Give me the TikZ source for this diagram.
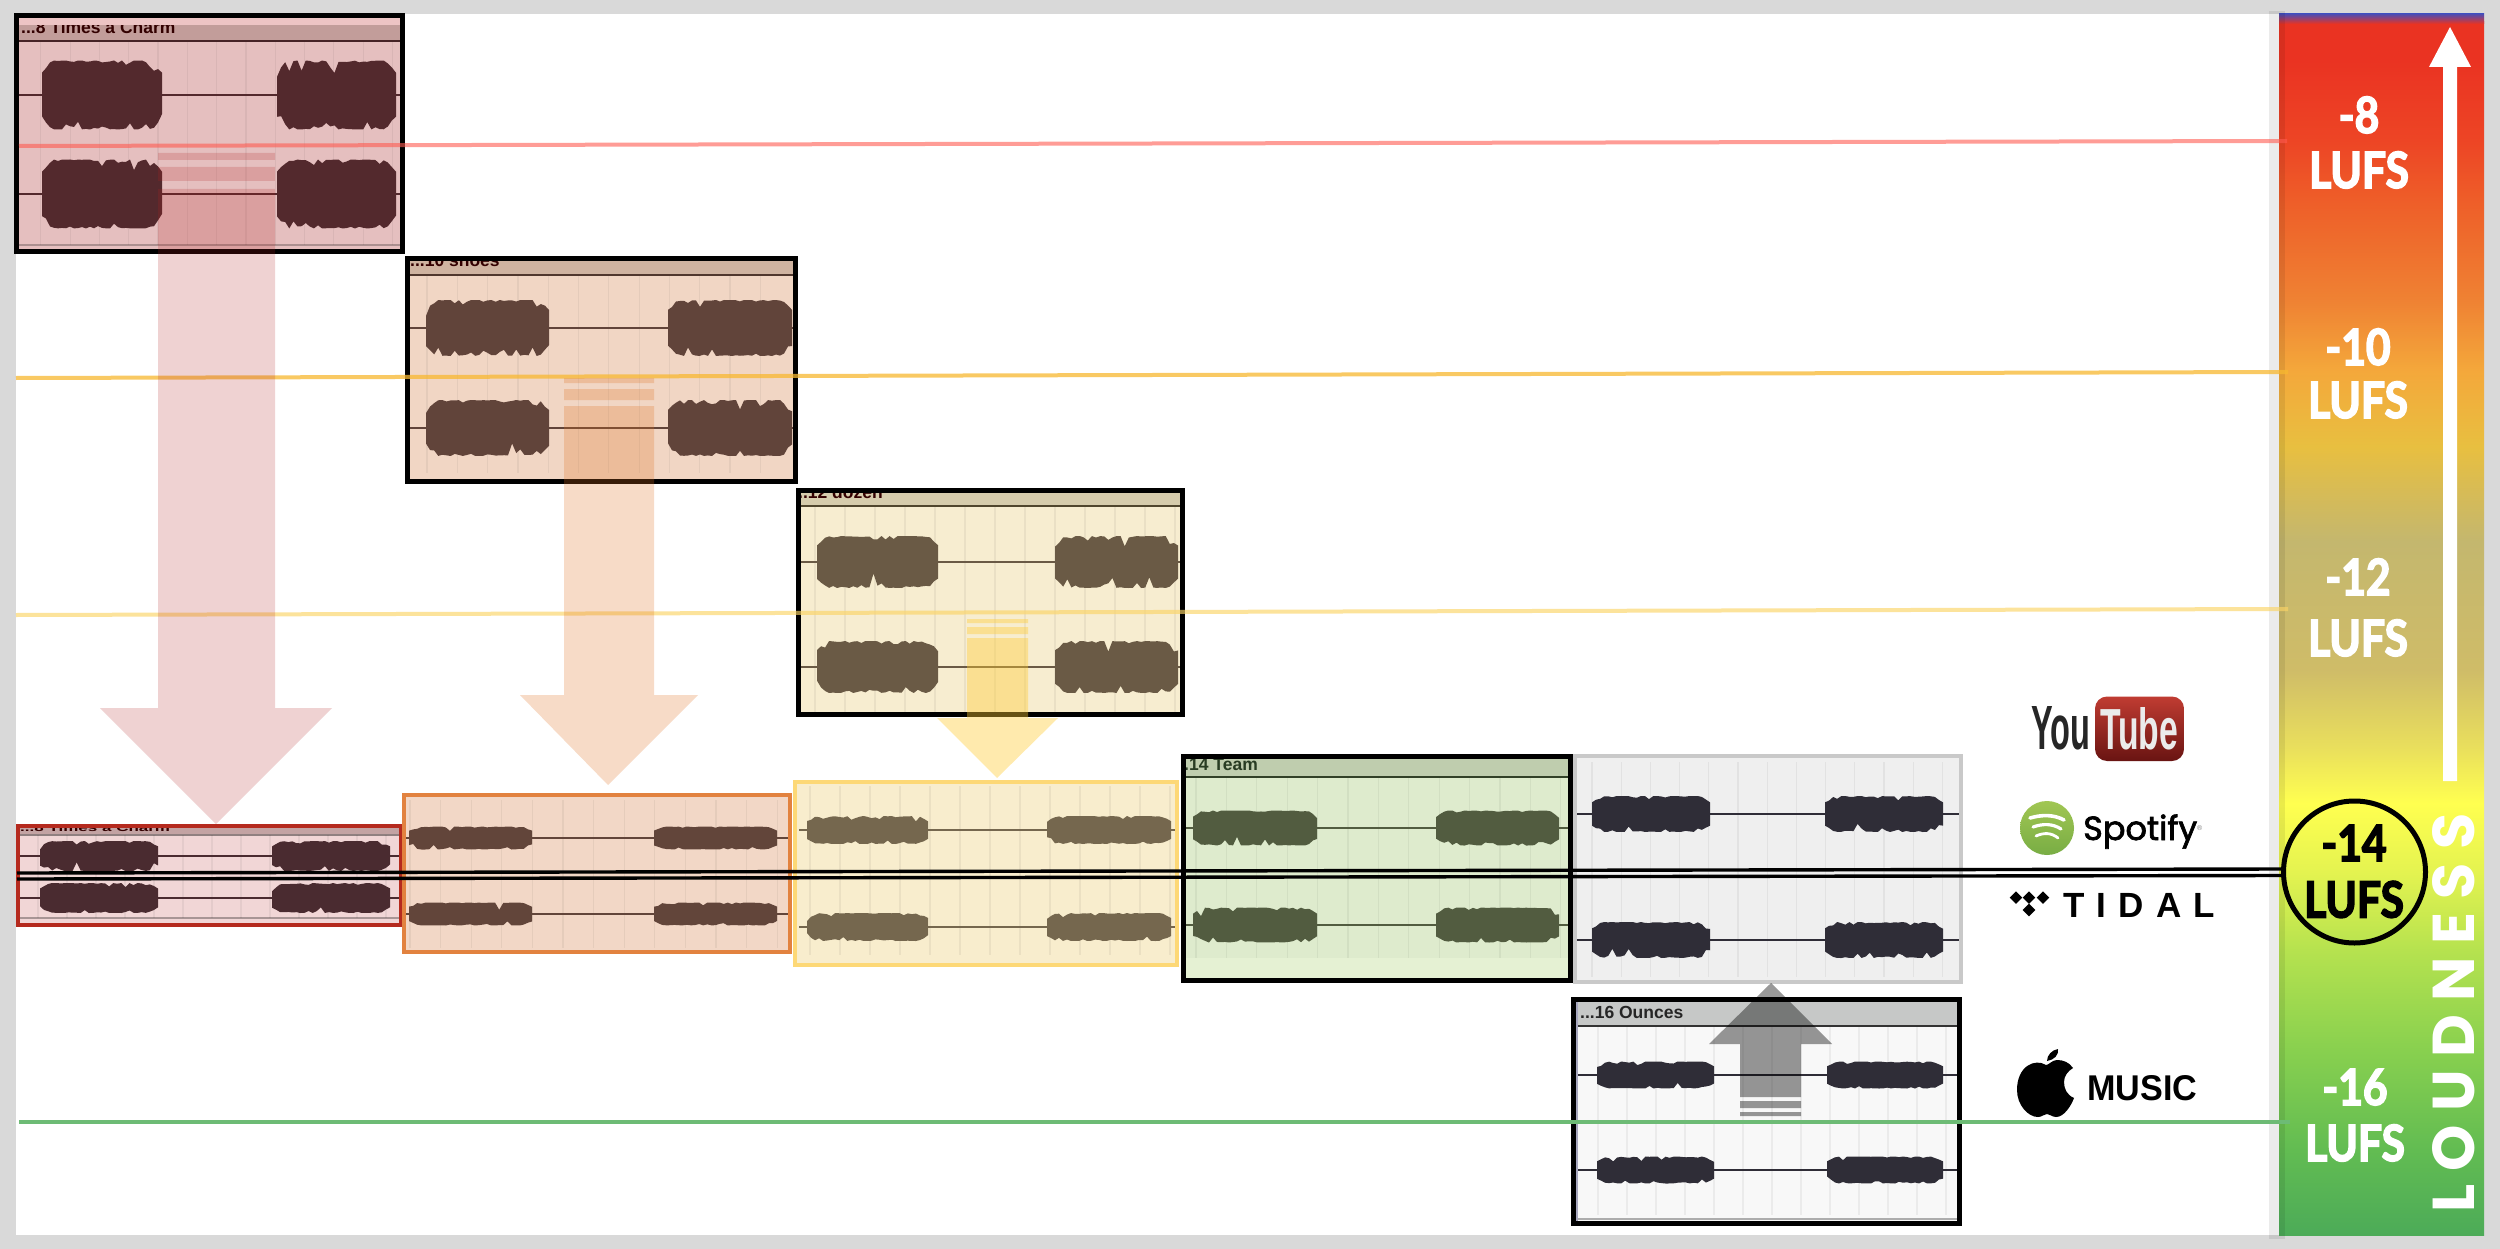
\documentclass[tikz,border=0pt]{standalone}
\usepackage{fontspec}
\setmainfont{Liberation Sans}
\newfontfamily\lufsfont[FakeStretch=0.85,BoldFeatures={FakeBold=3}]{Lato}
\newfontfamily\loudfont[LetterSpace=22]{Poppins}
\newfontfamily\spotfont[FakeBold=2]{Poppins}
\newfontfamily\tidalfont[LetterSpace=35]{Liberation Sans}
\definecolor{frame}{HTML}{D9D9D9}
\definecolor{mA}{HTML}{4CAB58}\definecolor{mB}{HTML}{62BC52}\definecolor{mC}{HTML}{88D04F}
\definecolor{mD}{HTML}{B5E24F}\definecolor{mE}{HTML}{E4F350}\definecolor{mF}{HTML}{FFFF50}
\definecolor{mG}{HTML}{EAE05C}\definecolor{mH}{HTML}{CFBC68}\definecolor{mI}{HTML}{C4B76E}
\definecolor{mJ}{HTML}{E8BF40}\definecolor{mK}{HTML}{F4A83B}\definecolor{mL}{HTML}{EF8233}
\definecolor{mM}{HTML}{EE5F29}\definecolor{mN}{HTML}{ED4525}\definecolor{mO}{HTML}{EA3322}
\pgfdeclareverticalshading{meter}{100bp}{
 color(0bp)=(mA);color(25bp)=(mA);color(28.5bp)=(mB);color(32.6bp)=(mC);color(36.7bp)=(mD);color(39.96bp)=(mE);
 color(42.8bp)=(mF);color(45bp)=(mG);color(48.3bp)=(mH);color(53.6bp)=(mI);color(57.5bp)=(mJ);color(60.6bp)=(mK);
 color(63.5bp)=(mL);color(67.5bp)=(mM);color(70.1bp)=(mN);color(73.4bp)=(mO);color(75bp)=(mO);color(100bp)=(mO)}
\newcommand\wv[4]{%
 \pgfmathtruncatemacro\nn{(#2-#1)/4}%
 \fill (#1,#3) foreach \i [evaluate=\i as \xx using {#1+(#2-#1)*\i/\nn},
   evaluate=\i as \yy using {#3-#4*min(1,.65+.15*min(\i,\nn-\i))*(1-.75*rnd*rnd*rnd*rnd)}] in {0,...,\nn} { -- (\xx,\yy) }
  foreach \i [evaluate=\i as \xx using {#2-(#2-#1)*\i/\nn},
   evaluate=\i as \yy using {#3+#4*min(1,.65+.15*min(\i,\nn-\i))*(1-.85*rnd*rnd*rnd*rnd)}] in {0,...,\nn} { -- (\xx,\yy) } -- cycle;}
% line x0, x1, yc, h, a0, a1, b0, b1
\newcommand\trk[8]{\draw[line width=1.6pt] (#1,#3) -- (#2,#3);\wv{#5}{#6}{#3}{#4}\wv{#7}{#8}{#3}{#4}}
% x0 step n y0 y1
\newcommand\grd[5]{\foreach \k in {0,...,#3} \draw[black,opacity=.05,line width=1.2pt] ({#1+\k*#2},#4) -- ({#1+\k*#2},#5);}
\tikzset{hdr/.style={font=\bfseries\fontsize{#1}{#1}\selectfont,anchor=base west,inner sep=0},
 lab/.style={font=\lufsfont\bfseries\fontsize{50}{50}\selectfont,text=white,anchor=base,inner sep=0},
 guide/.style={line width=4pt},
 blackbox/.style={black,line width=5pt}}
\begin{document}
\begin{tikzpicture}[x=1pt,y=-1pt]
\pgfmathsetseed{4242}
\useasboundingbox (0,0) rectangle (2500,1249);
\fill[frame] (0,0) rectangle (2500,1249);
\fill[white] (16,14) rectangle (2484,1235);
% ---------- meter
\shade[shading=meter] (2279,22) rectangle (2484,1235);
\fill[top color=blue!40!gray,bottom color=mO] (2279,14) rectangle (2484,24);
\fill[black,opacity=.08] (2269,11) rectangle (2285,1239);
% ---------- box 1
\fill[fill={rgb,255:red,229;green,191;blue,191}] (14,14) rectangle (404,254);
\fill[fill={rgb,255:red,194;green,157;blue,154}] (17,25) rectangle (402,41);
\node[hdr=17.5,text=black!80!red] (t8) at (21,33.5) {...8 Times a Charm};
\fill[fill={rgb,255:red,237;green,196;blue,196}] (17,16) rectangle (402,25);
\draw[line width=2pt,color={rgb,255:red,70;green,35;blue,38}] (18,41) -- (402,41);
\draw[black,opacity=.25,line width=1.5pt] (18,245) -- (402,245);
\grd{40.8}{29.3}{12}{42}{245}
\begin{scope}[color={rgb,255:red,83;green,41;blue,45},fill={rgb,255:red,83;green,41;blue,45}]
\trk{19}{402}{95}{34.5}{42}{162}{277}{396}\trk{19}{402}{194}{34.5}{42}{162}{277}{396}
\end{scope}
\draw[blackbox] (16,16) rectangle (402,252);
% ---------- box 2
\fill[fill={rgb,255:red,241;green,214;blue,196}] (405,257) rectangle (796,483);
\fill[fill={rgb,255:red,207;green,179;blue,160}] (407,260) rectangle (794,275);
\begin{scope}
\clip (407,260) rectangle (794,275);
\node[hdr=17.5,text=black!80!red] (t10) at (410,267) {...10 shoes};
\end{scope}
\draw[line width=2pt,color={rgb,255:red,80;green,55;blue,45}] (408,275) -- (794,275);
\grd{427}{30.3}{11}{276}{473}
\begin{scope}[color={rgb,255:red,97;green,68;blue,58},fill={rgb,255:red,97;green,68;blue,58}]
\trk{408}{794}{328}{28}{426}{549}{668}{792}\trk{408}{794}{428}{28}{426}{549}{668}{792}
\end{scope}
\draw[blackbox] (407,259) rectangle (795,481);
% ---------- box 3
\fill[fill={rgb,255:red,247;green,237;blue,208}] (796,488) rectangle (1184,716);
\fill[fill={rgb,255:red,214;green,204;blue,172}] (799,492) rectangle (1181,506);
\begin{scope}
\clip (799,492) rectangle (1181,506);
\node[hdr=17.5,text=black!80!red] (t12) at (798,498) {..12 dozen};
\end{scope}
\draw[line width=2pt,color={rgb,255:red,80;green,70;blue,45}] (800,506) -- (1181,506);
\grd{815}{30}{12}{507}{712}
\begin{scope}[color={rgb,255:red,106;green,90;blue,69},fill={rgb,255:red,106;green,90;blue,69}]
\trk{800}{1181}{562}{26}{817}{938}{1055}{1178}\trk{800}{1181}{667}{26}{817}{938}{1055}{1178}
\end{scope}
\draw[blackbox] (798,490) rectangle (1182,714);
% ---------- guide lines
\coordinate (rL) at (19,146);\coordinate (rR) at (2287,141);
\coordinate (oL) at (16,378);\coordinate (oR) at (2288,372);
\coordinate (yL) at (16,615);\coordinate (yR) at (2288,609);
\coordinate (gL) at (19,1122);\coordinate (gR) at (2290,1122);
\draw[guide,color={rgb,255:red,255;green,90;blue,80},opacity=.6] (rL) -- (rR);
\draw[guide,color={rgb,255:red,248;green,184;blue,48},opacity=.75] (oL) -- (oR);
\draw[guide,color={rgb,255:red,251;green,212;blue,102},opacity=.65] (yL) -- (yR);
% ---------- down arrows
\fill[color={rgb,255:red,178;green,34;blue,34},opacity=.2]
 (158,153) rectangle (275,160) (158,167) rectangle (275,181)
 (158,189) -- (275,189) -- (275,708) -- (332,708) -- (216,824) -- (100,708) -- (158,708) -- cycle;
\fill[color={rgb,255:red,224;green,112;blue,32},opacity=.25]
 (564,378) rectangle (654,383) (564,389) rectangle (654,400)
 (564,406) -- (654,406) -- (654,695) -- (698,695) -- (608,785) -- (520,695) -- (564,695) -- cycle;
\fill[color={rgb,255:red,255;green,204;blue,51},opacity=.4]
 (967,619) rectangle (1028,623) (967,627) rectangle (1028,634)
 (967,638) -- (1028,638) -- (1028,718) -- (1058,718) -- (997,778) -- (937,718) -- (967,718) -- cycle;
% ---------- lower row
% L5 grey
\fill[fill={rgb,255:red,239;green,239;blue,239}] (1573,754) rectangle (1963,984);
\grd{1592}{29.2}{12}{762}{977}
\begin{scope}[color={rgb,255:red,47;green,45;blue,55},fill={rgb,255:red,47;green,45;blue,55}]
\trk{1575}{1961}{814}{18}{1592}{1710}{1825}{1943}\trk{1575}{1961}{940}{18}{1592}{1710}{1825}{1943}
\end{scope}
\draw[color={rgb,255:red,201;green,201;blue,201},line width=4pt] (1575,756) rectangle (1961,982);
% L1 red
\fill[fill={rgb,255:red,241;green,214;blue,214}] (17,824) rectangle (402,926);
\fill[fill={rgb,255:red,195;green,163;blue,163}] (19,826) rectangle (400,834);
\begin{scope}
\clip (19,826) rectangle (400,834);
\node[hdr=17,text=black!80!red] (tl8) at (20,831) {\scalebox{1}[.6]{...8 Times a Charm}};
\end{scope}
\grd{38}{29}{12}{835}{918}
\draw[black,opacity=.4,line width=1.5pt] (19,835) -- (400,835);
\draw[black,opacity=.3,line width=1.5pt] (19,918) -- (400,918);
\begin{scope}[color={rgb,255:red,74;green,43;blue,48},fill={rgb,255:red,74;green,43;blue,48}]
\trk{19}{400}{856}{15}{40}{158}{272}{390}\trk{19}{400}{898}{15}{40}{158}{272}{390}
\end{scope}
\draw[color={rgb,255:red,181;green,42;blue,30},line width=4pt] (18,826) rectangle (401,925);
% L2 orange
\fill[fill={rgb,255:red,242;green,215;blue,198}] (402,793) rectangle (792,954);
\grd{410}{30.6}{12}{800}{948}
\begin{scope}[color={rgb,255:red,98;green,69;blue,58},fill={rgb,255:red,98;green,69;blue,58}]
\trk{405}{790}{838}{11.5}{409}{532}{654}{777}\trk{405}{790}{914}{11.5}{409}{532}{654}{777}
\end{scope}
\draw[color={rgb,255:red,226;green,130;blue,63},line width=4pt] (404,795) rectangle (790,952);
% L3 yellow
\fill[fill={rgb,255:red,248;green,237;blue,205}] (793,780) rectangle (1179,967);
\grd{810}{30}{12}{786}{955}
\begin{scope}[color={rgb,255:red,117;green,103;blue,78},fill={rgb,255:red,117;green,103;blue,78}]
\trk{799}{1176}{830}{14}{807}{928}{1047}{1171}\trk{799}{1176}{927}{14}{807}{928}{1047}{1171}
\end{scope}
\draw[color={rgb,255:red,253;green,216;blue,118},line width=4pt] (795,782) rectangle (1177,965);
% L4 green
\fill[fill={rgb,255:red,222;green,235;blue,205}] (1181,754) rectangle (1572,982);
\fill[fill={rgb,255:red,229;green,241;blue,211}] (1183,958) rectangle (1570,980);
\fill[fill={rgb,255:red,191;green,205;blue,174}] (1183,758) rectangle (1570,777);
\begin{scope}
\clip (1183,758) rectangle (1570,777);
\node[hdr=17.5,text={rgb,255:red,40;green,60;blue,35}] (t14) at (1184,770) {.14 Team};
\end{scope}
\draw[line width=2pt,color={rgb,255:red,50;green,65;blue,40}] (1184,777) -- (1570,777);
\grd{1196}{30.4}{12}{778}{958}
\begin{scope}[color={rgb,255:red,82;green,92;blue,64},fill={rgb,255:red,82;green,92;blue,64}]
\trk{1184}{1570}{828}{17.5}{1193}{1317}{1436}{1559}\trk{1184}{1570}{925}{17.5}{1193}{1317}{1436}{1559}
\end{scope}
\draw[blackbox] (1183,756) rectangle (1570,980);
% box 16
\fill[fill={rgb,255:red,248;green,248;blue,248}] (1571,997) rectangle (1961,1225);
\fill[fill={rgb,255:red,198;green,200;blue,199}] (1577,1001) rectangle (1959,1026);
\node[hdr=17.5,text=black!85] (t16) at (1580,1018) {...16 Ounces};
\draw[line width=1.6pt,color=black!80] (1577,1026) -- (1959,1026);
\grd{1598}{29}{12}{1027}{1215}
\draw[black,opacity=.3,line width=1.5pt] (1577,1219) -- (1959,1219);
\begin{scope}[color={rgb,255:red,47;green,45;blue,55},fill={rgb,255:red,47;green,45;blue,55}]
\trk{1577}{1959}{1075}{13.5}{1597}{1714}{1827}{1943}\trk{1577}{1959}{1170}{13.5}{1597}{1714}{1827}{1943}
\end{scope}
\draw[line width=2pt,color=blue!15!gray!60] (1577,1002) -- (1577,1221);
\draw[blackbox] (1573,999) rectangle (1959,1223);
% green guide and up arrow
\draw[line width=3.3pt,color={rgb,255:red,109;green,187;blue,117}] (gL) -- (gR);
\fill[black,opacity=.4] (1740,1101) rectangle (1801,1108) (1740,1112) rectangle (1801,1116)
 (1740,1097) -- (1801,1097) -- (1801,1044) -- (1832,1044) -- (1771,983) -- (1709,1044) -- (1740,1044) -- cycle;
% ---------- -14 LUFS circle and double line
\node[circle,draw=black,line width=5pt,minimum size=142pt,inner sep=0] (c14) at (2354.5,872) {};
\coordinate (dA) at (17,873);\coordinate (dB) at (17,879);
\coordinate (dC) at (2283,869);\coordinate (dD) at (2283,875.5);
\draw[black,line width=3.4pt] (dA) -- (dC);
\draw[black,line width=3.4pt] (dB) -- (dD);
% ---------- meter labels
\node[lab] (a8) at (2359,133) {-8};\node[lab] (b8) at (2359,188) {LUFS};
\node[lab] (a10) at (2358,365) {-10};\node[lab] (b10) at (2358,418) {LUFS};
\node[lab] (a12) at (2358,595) {-12};\node[lab] (b12) at (2358,656) {LUFS};
\node[lab,text=black] (a14) at (2354,861) {-14};\node[lab,text=black] (b14) at (2354,917.5) {LUFS};
\node[lab] (a16) at (2355,1105) {-16};\node[lab] (b16) at (2355,1161) {LUFS};
\fill[white] (2443,781) -- (2443,67) -- (2429,67) -- (2450,27) -- (2471,67) -- (2457,67) -- (2457,781) -- cycle;
\node[anchor=center,rotate=90,inner sep=0,text=white,font=\loudfont\bfseries\fontsize{59}{59}\selectfont] (loud) at (2453.5,1013) {LOUDNESS};
% ---------- YouTube
\node[anchor=base west,inner sep=0,text=black!85] (yt1) at (2031,749) {\resizebox{59pt}{43pt}{\bfseries You}};
\shade[top color={rgb,255:red,192;green,60;blue,50},bottom color={rgb,255:red,105;green,20;blue,18},rounded corners=12pt] (2095,696.5) rectangle (2184,761);
\node[anchor=base west,inner sep=0,text=white!92!black] (yt2) at (2100,749) {\resizebox{78pt}{42pt}{\bfseries Tube}};
% ---------- Spotify
\shade[top color={rgb,255:red,161;green,198;blue,83},bottom color={rgb,255:red,120;green,173;blue,68}] (2047,828) circle[radius=27];
\foreach \yy/\hw/\lw in {818/17/3.6,827/14/3.2,836/11/2.8}
 \draw[white,line width=\lw pt,line cap=round] (2047-\hw,\yy) .. controls (2047-.3*\hw,\yy-3.5) and (2047+.4*\hw,\yy-3.5) .. (2047+\hw,\yy+2);
\node[anchor=base west,inner sep=0] (sp) at (2083,840) {\resizebox{114pt}{!}{\spotfont Spotify}};
\node[anchor=base west,inner sep=0,text=black!50,font=\fontsize{7}{7}\selectfont] (spr) at (2197,830) {®};
% ---------- TIDAL
\foreach \cx/\cy in {2016/897.6,2029/897.6,2043/897.6,2029/910}
 \fill[black] (\cx-6.3,\cy) -- (\cx,\cy-6.3) -- (\cx+6.3,\cy) -- (\cx,\cy+6.3) -- cycle;
\node[anchor=base west,inner sep=0,font=\tidalfont\bfseries\fontsize{35}{35}\selectfont] (tid) at (2063,917.5) {TIDAL};
% ---------- Apple Music
\fill[black] (2046,1065) .. controls (2035,1058) and (2017,1066) .. (2017,1090)
 .. controls (2017,1105) and (2028,1117) .. (2038,1117)
 .. controls (2042,1117) and (2044,1114) .. (2047,1114)
 .. controls (2050,1114) and (2052,1117) .. (2056,1117)
 .. controls (2064,1117) and (2071,1106) .. (2074,1098)
 .. controls (2067,1095) and (2064,1089) .. (2064,1082)
 .. controls (2064,1076) and (2068,1071) .. (2073,1068)
 .. controls (2069,1062) and (2063,1060) .. (2057,1060)
 .. controls (2052,1060) and (2049,1065) .. (2046,1065) -- cycle
 (2047,1061) .. controls (2047,1055) and (2052,1050) .. (2058,1049)
 .. controls (2059,1055) and (2054,1060) .. (2047,1061) -- cycle;
\node[anchor=base west,inner sep=0] (am) at (2087,1100) {\resizebox{110pt}{25pt}{\bfseries MUSIC}};
\end{tikzpicture}
\end{document}
